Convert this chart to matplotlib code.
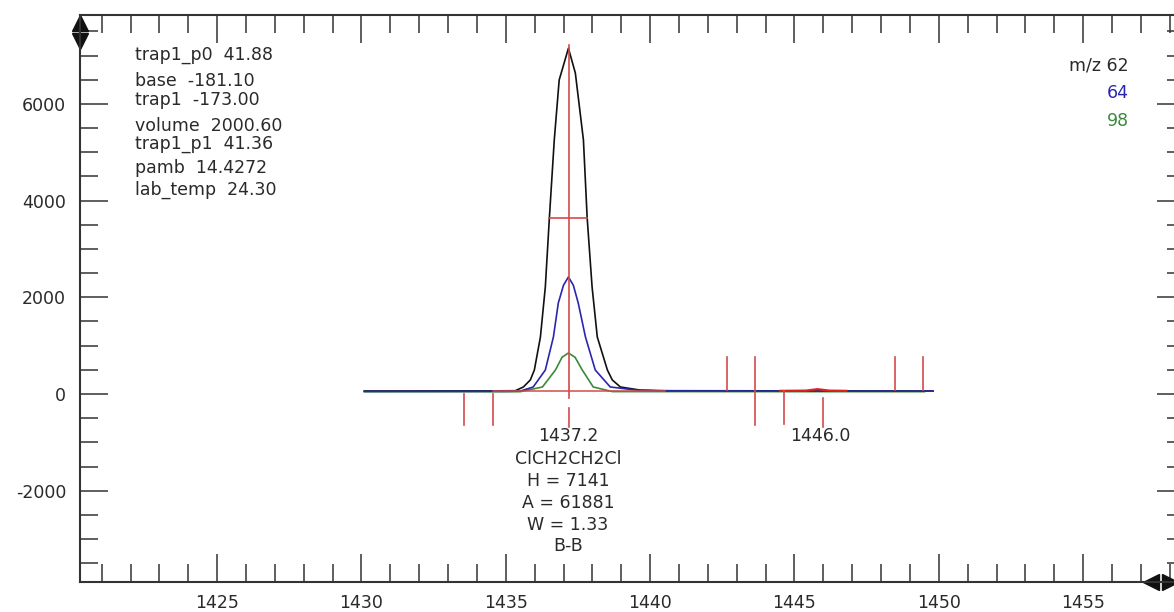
"""Chromatogram peak window: m/z 62/64/98 traces around ClCH2CH2Cl at 1437.2."""
import matplotlib
matplotlib.use("Agg")
import matplotlib.pyplot as plt

plt.rcParams["axes.unicode_minus"] = False
W, H = 1174, 612

# traces
black_x = [1430.1, 1434.5, 1435.33, 1435.61, 1435.85, 1435.99, 1436.20, 1436.37, 1436.51, 1436.68, 1436.85,
           1437.17, 1437.41, 1437.69, 1437.82, 1437.99, 1438.17, 1438.52, 1438.69, 1438.97, 1439.66, 1440.6, 1449.8]
black_y = [62, 64, 68, 145, 290, 496, 1179, 2213, 3640, 5253, 6494,
           7150, 6638, 5253, 3640, 2213, 1179, 496, 290, 145, 80, 68, 62]
blue_x = [1430.1, 1435.0, 1435.50, 1435.95, 1436.37, 1436.65, 1436.82, 1437.00, 1437.17, 1437.34,
          1437.51, 1437.76, 1438.10, 1438.62, 1439.49, 1440.36, 1449.8]
blue_y = [55, 55, 60, 145, 496, 1179, 1882, 2250, 2420, 2250,
          1882, 1179, 496, 145, 83, 62, 58]
green_x = [1430.1, 1435.50, 1436.27, 1436.72, 1436.95, 1437.17, 1437.40, 1437.65, 1438.03, 1438.69, 1449.5]
green_y = [45, 48, 145, 496, 760, 848, 760, 496, 145, 50, 48]
red_x = [1444.5, 1445.4, 1445.8, 1446.2, 1446.8]
red_y = [65, 70, 100, 70, 65]

# peak markers (x, y_from, y_to)
marks = [(1437.2, 7220, -80), (1437.2, -290, -680),
         (1433.56, 0, -640), (1434.57, 0, -640),
         (1442.68, 765, 83), (1443.65, 765, -641), (1444.65, 62, -620),
         (1446.0, -83, -682), (1448.47, 765, 83), (1449.44, 765, 83)]
base_seg = (1434.57, 1440.5, 55)
half_seg = (1436.51, 1437.82, 3640)

params = ["trap1_p0  41.88", "base  -181.10", "trap1  -173.00", "volume  2000.60",
          "trap1_p1  41.36", "pamb  14.4272", "lab_temp  24.30"]
param_py = [55, 81, 100, 126, 144, 168, 190]
peak_lines = ["1437.2", "ClCH2CH2Cl", "H = 7141", "A = 61881", "W = 1.33", "B-B"]
peak_py = [436, 459, 481, 503, 525, 546]

BLACK, BLUE, GREEN, RED = "#111111", "#2a26b0", "#3a8a3a", "#d44a4a"
TXT = "#2a2a2a"

fig = plt.figure(figsize=(W / 100, H / 100), dpi=100)
x0, x1, y0, y1 = 80, 1185, 15, 582
ax = fig.add_axes([x0 / W, 1 - y1 / H, (x1 - x0) / W, (y1 - y0) / H])
ax.set_xlim(1420.25, 1458.53)
ax.set_ylim(-3888, 7838)

ax.plot(black_x, black_y, color=BLACK, lw=1.2)
ax.plot(green_x, green_y, color=GREEN, lw=1.2)
ax.plot(blue_x, blue_y, color=BLUE, lw=1.2)
ax.plot(red_x, red_y, color="#e02020", lw=1.6)
for x, a, b in marks:
    ax.plot([x, x], [a, b], color=RED, lw=1.2)
ax.plot(base_seg[:2], [base_seg[2]] * 2, color=RED, lw=1.1)
ax.plot(half_seg[:2], [half_seg[2]] * 2, color=RED, lw=1.2)

ax.set_xticks(range(1425, 1460, 5))
ax.set_xticks(range(1421, 1459), minor=True)
ax.set_yticks(range(-2000, 7000, 2000))
ax.set_yticks(range(-3500, 7600, 500), minor=True)
ax.tick_params(which="both", direction="in", top=True, right=True, colors="#333333",
               labelcolor=TXT, labelsize=12.5, width=1.1)
ax.tick_params(which="major", length=20)
ax.tick_params(which="minor", length=13)
ax.tick_params(axis="y", pad=10)
ax.tick_params(axis="x", pad=9)
for s in ax.spines.values():
    s.set_color("#333333"); s.set_linewidth(1.5)

# corner arrows
tr = ax.transAxes
def pos(px, py):
    return (px - x0) / (x1 - x0), (y1 - py) / (y1 - y0)
for px, py, m in [(80, 23, "^"), (80, 41, "v"), (1151, 582, "<"), (1170, 582, ">")]:
    ax.plot(*pos(px, py), marker=m, ms=11, color=BLACK, transform=tr, clip_on=False)

for s, py in zip(params, param_py):
    fig.text(135 / W, 1 - py / H, s, ha="left", va="center", fontsize=12.5, color=TXT)
for s, py in zip(peak_lines, peak_py):
    fig.text(568 / W, 1 - py / H, s, ha="center", va="center", fontsize=12.5, color=TXT)
fig.text(820 / W, 1 - 436 / H, "1446.0", ha="center", va="center", fontsize=12.5, color=TXT)

for s, py, c in [("m/z 62", 65, TXT), ("64", 93, BLUE), ("98", 121, GREEN)]:
    fig.text(1129 / W, 1 - py / H, s, ha="right", va="center", fontsize=12.5, color=c)

fig.savefig("out.png", dpi=100)
